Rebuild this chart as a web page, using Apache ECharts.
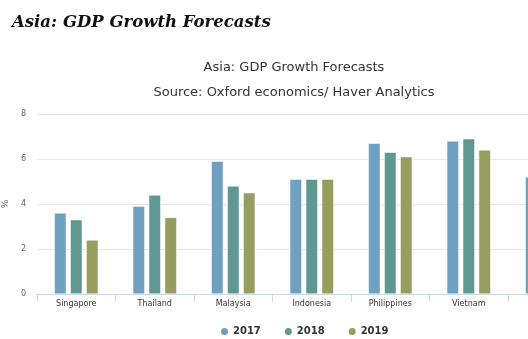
<!DOCTYPE html>
<html>
<head>
<meta charset="utf-8">
<script src="https://cdn.jsdelivr.net/npm/echarts@6/dist/echarts.min.js"></script>
<style>
html,body{margin:0;padding:0;background:#fff;overflow:hidden;width:528px;height:339px;}
#chart{width:600px;height:339px;}
</style>
</head>
<body>
<div id="chart"></div>
<script>
var categories = ['Singapore', 'Thailand', 'Malaysia', 'Indonesia', 'Philippines', 'Vietnam', 'India'];
var s2017 = [3.6, 3.9, 5.9, 5.1, 6.7, 6.8, 5.2];
var s2018 = [3.3, 4.4, 4.8, 5.1, 6.3, 6.9, 5.2];
var s2019 = [2.4, 3.4, 4.5, 5.1, 6.1, 6.4, 5.2];
var seriesNames = ['2017', '2018', '2019'];
var yTicks = [0, 2, 4, 6, 8];

var colors = ['#6fa0c0', '#5f9892', '#959e5f'];
var chart = echarts.init(document.getElementById('chart'), null, {renderer: 'canvas'});
var data = [s2017, s2018, s2019];
chart.setOption({
  animation: false,
  color: colors,
  title: [
    {text: 'Asia: GDP Growth Forecasts', left: 7, top: 9,
     textStyle: {fontFamily: 'DejaVu Serif', fontStyle: 'italic', fontWeight: 'bold', fontSize: 16.5, color: '#111'}},
    {text: 'Asia: GDP Growth Forecasts', left: 289, top: 56, textAlign: 'center',
     textStyle: {fontFamily: 'DejaVu Sans', fontWeight: 'normal', fontSize: 13, color: '#333'}},
    {text: 'Source: Oxford economics/ Haver Analytics', left: 289, top: 81, textAlign: 'center',
     textStyle: {fontFamily: 'DejaVu Sans', fontWeight: 'normal', fontSize: 13, color: '#333'}}
  ],
  legend: {
    data: seriesNames, left: 214, top: 321, icon: 'circle', itemWidth: 9, itemHeight: 9, itemGap: 22,
    textStyle: {fontFamily: 'DejaVu Sans', fontWeight: 'bold', fontSize: 10, color: '#333', padding: [0,0,0,-1]}
  },
  grid: {left: 37, right: 13.5, top: 114, bottom: 45, outerBoundsMode: 'none', containLabel: false},
  xAxis: {
    type: 'category', data: categories,
    axisLine: {lineStyle: {color: '#ccd6eb'}},
    axisTick: {show: true, length: 8, lineStyle: {color: '#ccd6eb'}},
    axisLabel: {fontFamily: 'DejaVu Sans', fontSize: 8, color: '#333', margin: 6}
  },
  yAxis: {
    type: 'value', min: yTicks[0], max: yTicks[yTicks.length - 1], interval: 2,
    name: '%', nameLocation: 'middle', nameGap: 23, nameRotate: 90,
    nameTextStyle: {fontFamily: 'DejaVu Sans', fontSize: 9, color: '#666'},
    axisLine: {show: false}, axisTick: {show: false},
    splitLine: {lineStyle: {color: '#e6e6e6'}},
    axisLabel: {fontFamily: 'DejaVu Sans', fontSize: 8, color: '#666', margin: 11}
  },
  series: seriesNames.map(function (n, i) {
    return {name: n, type: 'bar', data: data[i], barWidth: 12, barGap: '33%',
      itemStyle: {borderColor: '#fff', borderWidth: 0.5}};
  })
});
</script>
</body>
</html>
